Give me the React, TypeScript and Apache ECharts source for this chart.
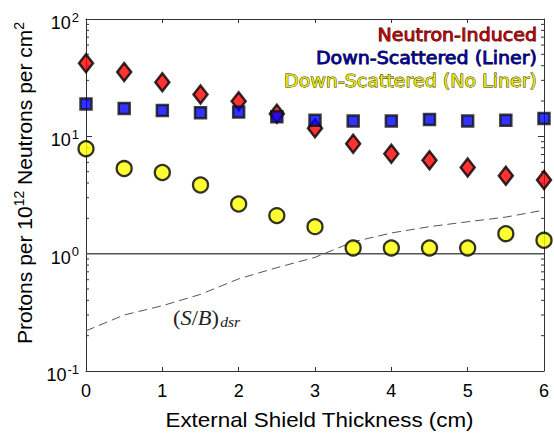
import React, { useEffect, useRef } from "react";
import * as echarts from "echarts";

const thickness = [0, 0.5, 1, 1.5, 2, 2.5, 3, 3.5, 4, 4.5, 5, 5.5, 6];
const neutronInduced = [42, 35.3, 28.9, 22.7, 19.9, 15.6, 11.7, 8.65, 7.12, 6.26, 5.42, 4.61, 4.24];
const linerScattered = [18.9, 17.3, 16.6, 15.9, 16.1, 14.7, 13.7, 13.5, 13.5, 13.9, 13.5, 13.7, 14.2];
const noLinerScattered = [7.85, 5.31, 4.92, 3.85, 2.65, 2.11, 1.7, 1.12, 1.12, 1.12, 1.12, 1.48, 1.3];
const sbRatio = [0.22, 0.3, 0.36, 0.45, 0.61, 0.76, 0.93, 1.26, 1.5, 1.7, 1.87, 2.05, 2.35];
const refX = [0, 6];
const refY = [1, 1];
const minorTickValues = [0.2, 0.3, 0.4, 0.5, 0.6, 0.7, 0.8, 0.9, 2, 3, 4, 5, 6, 7, 8, 9, 20, 30, 40, 50, 60, 70, 80, 90];
const xTicks = [0, 1, 2, 3, 4, 5, 6];
const legendNames = ["Neutron-Induced", "Down-Scattered (Liner)", "Down-Scattered (No Liner)"];

const AXIS = "#333";

export default function App() {
  const ref = useRef<HTMLDivElement>(null);
  useEffect(() => {
    if (!ref.current) return;
    const chart = echarts.init(ref.current, null, { renderer: "svg" });
    const pair = (ys: number[]) => thickness.map((x, i) => [x, ys[i]]);
    const sans = "Liberation Sans, Arial, sans-serif";
    const yLabelFmt = (v: number) => {
      const e = Math.round(Math.log10(v));
      return `{b|10}{s|${e}}`;
    };
    const commonX = {
      type: "value",
      min: 0,
      max: 6,
      interval: 1,
      splitLine: { show: false },
      axisLine: { show: true, onZero: false, lineStyle: { color: AXIS, width: 1 } },
      axisTick: { show: true, inside: true, length: 4, lineStyle: { color: AXIS } },
    };
    const commonY = {
      type: "log",
      logBase: 10,
      min: 0.1,
      max: 100,
      splitLine: { show: false },
      axisLine: { show: true, onZero: false, lineStyle: { color: AXIS, width: 1 } },
      axisTick: { show: true, inside: true, length: 6, lineStyle: { color: AXIS } },
    };
    chart.setOption({
      animation: false,
      grid: { left: 86, right: 10, top: 19, bottom: 62, containLabel: false },
      xAxis: [
        {
          ...commonX,
          position: "bottom",
          axisLabel: {
            show: true,
            fontSize: 18,
            fontFamily: sans,
            color: "#000",
            margin: 11,
            formatter: (v: number) => (xTicks.includes(v) ? String(v) : ""),
          },
        },
        { ...commonX, position: "top", axisLabel: { show: false } },
      ],
      yAxis: [
        {
          ...commonY,
          position: "left",
          axisLabel: {
            show: true,
            margin: 7,
            color: "#000",
            fontFamily: sans,
            formatter: yLabelFmt,
            rich: {
              b: { fontSize: 18, fontFamily: sans, color: "#000", padding: [8, 0, 0, 0] },
              s: { fontSize: 13, fontFamily: sans, color: "#000", padding: [0, 0, 4, 1] },
            },
          },
        },
        { ...commonY, position: "right", axisLabel: { show: false } },
      ],
      series: [
        {
          type: "custom",
          silent: true,
          xAxisIndex: 0,
          yAxisIndex: 0,
          data: minorTickValues.map((v) => [0, v]),
          renderItem: (params: any, api: any) => {
            const v = api.value(1);
            const p = api.coord([0, v]);
            const q = api.coord([6, v]);
            return {
              type: "group",
              children: [
                { type: "line", shape: { x1: p[0], y1: p[1], x2: p[0] + 3, y2: p[1] }, style: { stroke: AXIS, lineWidth: 1 } },
                { type: "line", shape: { x1: q[0], y1: q[1], x2: q[0] - 3, y2: q[1] }, style: { stroke: AXIS, lineWidth: 1 } },
              ],
            };
          },
          z: 1,
        },
        {
          type: "line",
          data: refX.map((x, i) => [x, refY[i]]),
          showSymbol: false,
          symbol: "none",
          lineStyle: { color: "#555", width: 1.5 },
          silent: true,
          z: 2,
        },
        {
          type: "line",
          data: pair(sbRatio),
          showSymbol: false,
          symbol: "none",
          lineStyle: { color: "#555", width: 1, type: [9, 5] },
          silent: true,
          z: 2,
        },
        {
          name: legendNames[0],
          type: "scatter",
          data: pair(neutronInduced),
          symbol: "diamond",
          symbolSize: [14, 18],
          itemStyle: { color: "#ff0000", borderColor: "#000", borderWidth: 2.5 },
          z: 3,
        },
        {
          name: legendNames[1],
          type: "scatter",
          data: pair(linerScattered),
          symbol: "rect",
          symbolSize: 11,
          itemStyle: { color: "#0000ff", borderColor: "#111", borderWidth: 2.5 },
          z: 4,
        },
        {
          name: legendNames[2],
          type: "scatter",
          data: pair(noLinerScattered),
          symbol: "circle",
          symbolSize: 15,
          itemStyle: { color: "#ffff00", borderColor: "#000", borderWidth: 2.3 },
          z: 5,
        },
      ],
      graphic: [
        {
          type: "text",
          x: 537,
          y: 34.5,
          scaleX: 1.12,
          style: {
            text: legendNames[0],
            font: '17px "DejaVu Sans"',
            fill: "#c00000",
            stroke: "#2a0000",
            lineWidth: 0.8,
            textAlign: "right",
            textVerticalAlign: "middle",
          },
          z: 10,
        },
        {
          type: "text",
          x: 537,
          y: 57.5,
          scaleX: 1.12,
          style: {
            text: legendNames[1],
            font: '17px "DejaVu Sans"',
            fill: "#0000a0",
            stroke: "#000022",
            lineWidth: 0.8,
            textAlign: "right",
            textVerticalAlign: "middle",
          },
          z: 10,
        },
        {
          type: "text",
          x: 537,
          y: 80.5,
          scaleX: 1.12,
          style: {
            text: legendNames[2],
            font: '17px "DejaVu Sans"',
            fill: "#e6e600",
            stroke: "#2a2a00",
            lineWidth: 0.8,
            textAlign: "right",
            textVerticalAlign: "middle",
          },
          z: 10,
        },
        {
          type: "text",
          x: 319.5,
          y: 419.5,
          scaleX: 1.12,
          style: {
            text: "External Shield Thickness (cm)",
            font: '20px "Liberation Sans"',
            fill: "#000",
            textAlign: "center",
            textVerticalAlign: "middle",
          },
        },
        {
          type: "text",
          x: 24,
          y: 183,
          rotation: Math.PI / 2,
          style: {
            text: "Protons per 10{s|12} Neutrons per cm{s|2}",
            font: '21px "Liberation Sans"',
            fill: "#000",
            textAlign: "center",
            textVerticalAlign: "middle",
            rich: {
              s: { fontSize: 14, fontFamily: "Liberation Sans", fill: "#000", padding: [0, 0, 10, 0] },
            },
          },
        },
        {
          type: "text",
          x: 173,
          y: 318,
          scaleX: 1.12,
          style: {
            text: "{p|(}{i|S}{p|/}{i|B}{p|)}{sub|dsr}",
            fill: "#222",
            textAlign: "left",
            textVerticalAlign: "middle",
            rich: {
              p: { fontSize: 20, fontFamily: "Liberation Serif", fill: "#222" },
              i: { fontSize: 20, fontFamily: "Liberation Serif", fontStyle: "italic", fill: "#222" },
              sub: { fontSize: 14, fontFamily: "Liberation Serif", fontStyle: "italic", fill: "#222", padding: [9, 0, 0, 1] },
            },
          },
        },
      ],
    });
    return () => chart.dispose();
  }, []);
  return (
    <div
      ref={ref}
      style={{ position: "fixed", left: 0, top: 0, width: 554, height: 433, background: "#fff" }}
    />
  );
}
